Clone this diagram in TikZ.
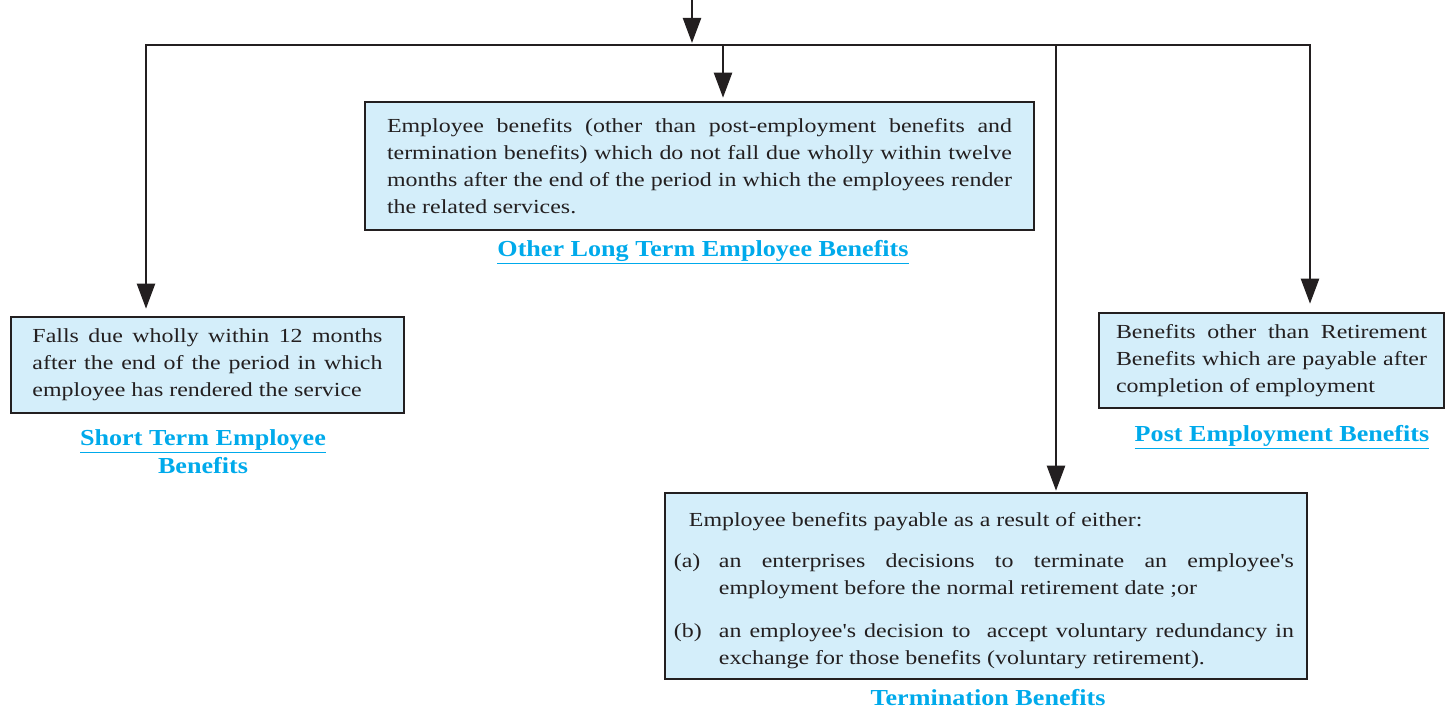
\documentclass[tikz,border=0pt]{standalone}
\usepackage{fontspec}
\setmainfont{Liberation Serif}
\newfontfamily\bodyfont[FakeStretch=1.2]{Liberation Serif}
\newfontfamily\labfont[FakeStretch=1.14]{Liberation Serif}
\usetikzlibrary{arrows.meta}
\definecolor{boxfill}{RGB}{212,238,250}
\definecolor{labcol}{RGB}{0,170,235}
\definecolor{ink}{RGB}{35,31,32}
\newcommand{\itemrow}[2]{\noindent\makebox[45bp][l]{#1}\parbox[t]{575bp}{#2}}
\tikzset{
  conn/.style={draw=ink, line width=2.3bp, line join=miter},
  arr/.style={conn, -{Triangle[length=25bp,width=18bp]}},
  dblarr/.style={conn, {Triangle[length=25bp,width=18bp]}-{Triangle[length=25bp,width=18bp]}},
  bodytext/.style={inner sep=0pt, align=justify, font=\bodyfont\fontsize{20}{27}\selectfont, text=ink},
  infobox/.style={draw=ink, line width=2.6bp, fill=boxfill, bodytext},
  lab/.style={font=\labfont\fontsize{23}{28}\selectfont\bfseries, text=labcol, align=center, inner sep=0pt}
}
\begin{document}
\begin{tikzpicture}[x=1bp,y=-1bp]
\useasboundingbox (0,0) rectangle (1449,710);

% boxes
\node[infobox, minimum width=393bp, minimum height=96bp, text width=350bp] (short) at (207.5,365)
  {Falls due wholly within 12 months\linebreak after the end of the period in which\linebreak employee has rendered the service};
\node[infobox, minimum width=669bp, minimum height=128bp, text width=625bp] (other) at (699.5,166)
  {Employee benefits (other than post-employment benefits and\linebreak termination benefits) which do not fall due wholly within twelve\linebreak months after the end of the period in which the employees render\linebreak the related services.};
\node[infobox, minimum width=345bp, minimum height=95bp, text width=311bp] (post) at (1271.5,360.5)
  {Benefits other than Retirement\linebreak Benefits which are payable after\linebreak completion of employment};
\node[infobox, minimum width=642bp, minimum height=186bp] (term) at (986,586) {};
\node[bodytext, anchor=north west, text width=620bp] (termtext) at ([xshift=10bp,yshift=-21bp]term.north west)
  {\noindent\hspace*{15bp}Employee benefits payable as a result of either:\par\vspace{14bp}
   \itemrow{(a)}{an enterprises decisions to terminate an employee's\linebreak employment before the normal retirement date ;or}\par\vspace{24bp}
   \itemrow{(b)}{an employee's decision to~ accept voluntary redundancy in\linebreak exchange for those benefits (voluntary retirement).}\par};

% labels
\node[lab] (lshort) at (203,452) {\underline{Short Term Employee}\\Benefits};
\node[lab] (lother) at (703,252) {\underline{Other Long Term Employee Benefits}};
\node[lab] (lpost) at (1282,437) {\underline{Post Employment Benefits}};
\node[lab] (lterm) at (988,698) {Termination Benefits};

% connectors
\coordinate (top) at (692,0);
\coordinate (join) at (692,45);
\coordinate (bL) at (146,45);
\coordinate (bR) at (1310,45);
\coordinate (bO) at (723,45);
\coordinate (bT) at (1056,45);

\draw[arr] (top) -- ([yshift=2bp]join);
\draw[dblarr] ([yshift=7bp]bL |- short.north) -- (bL) -- (bR) -- ([yshift=8bp]bR |- post.north);
\draw[arr] (bO) -- ([yshift=3bp]bO |- other.north);
\draw[arr] (bT) -- ([yshift=1bp]bT |- term.north);
\end{tikzpicture}
\end{document}
